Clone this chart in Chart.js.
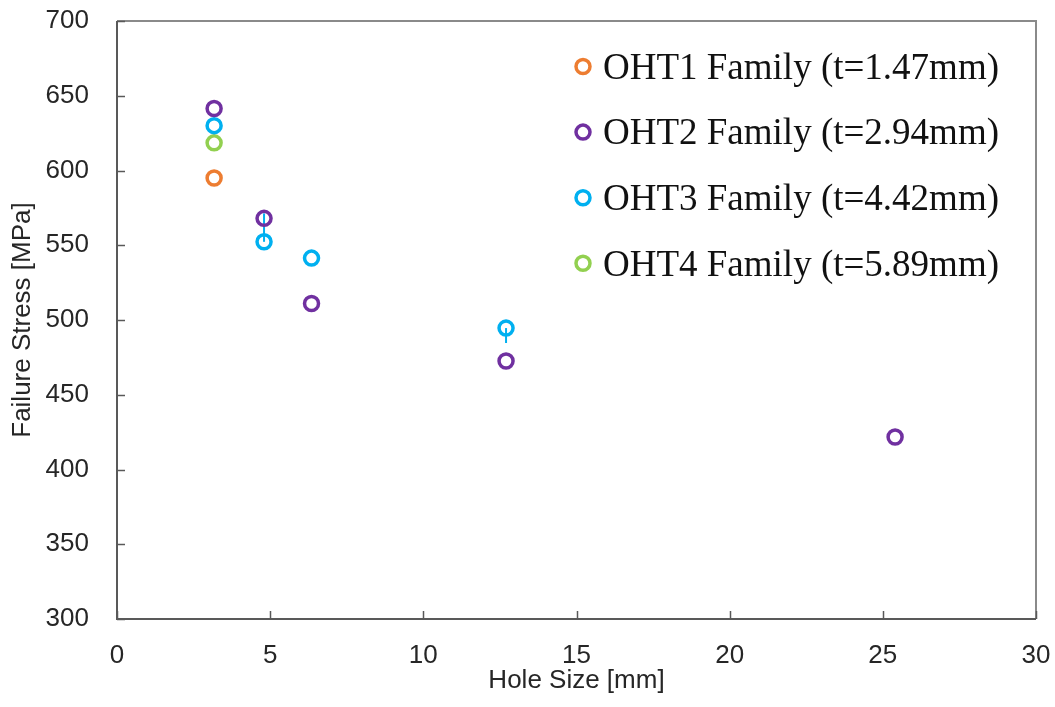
<!DOCTYPE html>
<html>
<head>
<meta charset="utf-8">
<script src="https://cdn.jsdelivr.net/npm/chart.js@4/dist/chart.umd.min.js"></script>
<style>
  html, body { margin: 0; padding: 0; background: #ffffff; }
  #wrap { width: 1055px; height: 707px; }
</style>
</head>
<body>
<div id="wrap"><canvas id="c" width="1055" height="707"></canvas></div>
<script>
// Failure stress of open-hole tension families versus hole diameter
const seriesNames = [
  'OHT1 Family (t=1.47mm)',
  'OHT2 Family (t=2.94mm)',
  'OHT3 Family (t=4.42mm)',
  'OHT4 Family (t=5.89mm)'
];
const seriesColors = ['#ED7D31', '#7030A0', '#00B0F0', '#92D050'];

const oht1Hole = [3.17];
const oht1Stress = [595];

const oht2Hole = [3.17, 4.8, 6.35, 12.7, 25.4];
const oht2Stress = [641.5, 568, 511, 472.6, 421.7];

const oht3Hole = [3.17, 4.8, 6.35, 12.7];
const oht3Stress = [630, 552.3, 541.4, 494.6];
// scatter of the OHT3 results (upper / lower extent from the mean)
const oht3ErrPlus = [0, 19, 0, 0];
const oht3ErrMinus = [0, 0, 0, 10];

const oht4Hole = [3.17];
const oht4Stress = [618.5];

const xTicks = [0, 5, 10, 15, 20, 25, 30];
const yTicks = [300, 350, 400, 450, 500, 550, 600, 650, 700];

const holeLists = [oht1Hole, oht2Hole, oht3Hole, oht4Hole];
const stressLists = [oht1Stress, oht2Stress, oht3Stress, oht4Stress];

const MARK_R = 7;
const MARK_W = 3.5;

const datasets = seriesNames.map((name, i) => ({
  label: name,
  data: holeLists[i].map((x, k) => ({ x: x, y: stressLists[i][k] })),
  borderColor: seriesColors[i],
  backgroundColor: 'rgba(0,0,0,0)',
  pointRadius: MARK_R,
  pointHoverRadius: MARK_R,
  pointBorderWidth: MARK_W,
  pointHoverBorderWidth: MARK_W,
  showLine: false
}));

const TICK_FONT = { family: '"Liberation Sans", Arial, sans-serif', size: 26 };
const TEXT_COLOR = '#262626';

// fixed axis box sizes; label overhang is allowed into the outer margin
function fixBox(s, w, h) {
  if (w !== null) s.width = w;
  if (h !== null) s.height = h;
  s.paddingTop = 0;
  s.paddingBottom = 0;
  s.paddingLeft = 0;
  s.paddingRight = 0;
}

// plot frame, axis lines and inward tick marks
const framePlugin = {
  id: 'frame',
  afterDraw(chart) {
    const { ctx, chartArea: a, scales } = chart;
    ctx.save();
    ctx.strokeStyle = '#8a8a8a';
    ctx.lineWidth = 2;
    ctx.beginPath();
    ctx.moveTo(a.left, a.top);
    ctx.lineTo(a.right, a.top);
    ctx.lineTo(a.right, a.bottom);
    ctx.stroke();
    ctx.strokeStyle = '#595959';
    ctx.lineWidth = 2;
    ctx.beginPath();
    ctx.moveTo(a.left, a.top);
    ctx.lineTo(a.left, a.bottom);
    ctx.lineTo(a.right, a.bottom);
    ctx.stroke();
    ctx.lineWidth = 1.5;
    yTicks.forEach(v => {
      const y = Math.round(scales.y.getPixelForValue(v)) + 0.5;
      ctx.beginPath();
      ctx.moveTo(a.left, y);
      ctx.lineTo(a.left + 8, y);
      ctx.stroke();
    });
    xTicks.forEach(v => {
      const x = Math.round(scales.x.getPixelForValue(v)) + 0.5;
      ctx.beginPath();
      ctx.moveTo(x, a.bottom);
      ctx.lineTo(x, a.bottom - 8);
      ctx.stroke();
    });
    ctx.restore();
  }
};

// vertical error bars on the OHT3 series
const errorBarPlugin = {
  id: 'errorBars',
  beforeDatasetsDraw(chart) {
    const { ctx, scales } = chart;
    ctx.save();
    ctx.strokeStyle = seriesColors[2];
    ctx.lineWidth = 2;
    oht3Hole.forEach((x, k) => {
      const px = scales.x.getPixelForValue(x);
      const yTop = scales.y.getPixelForValue(oht3Stress[k] + oht3ErrPlus[k]);
      const yBot = scales.y.getPixelForValue(oht3Stress[k] - oht3ErrMinus[k]);
      if (yBot - yTop < 0.5) return;
      ctx.beginPath();
      ctx.moveTo(px, yTop);
      ctx.lineTo(px, yBot);
      ctx.stroke();
    });
    ctx.restore();
  }
};

// legend block inside the upper right of the plot
const legendPlugin = {
  id: 'serifLegend',
  afterDatasetsDraw(chart) {
    const { ctx, chartArea: a } = chart;
    const markerX = a.right - 453;
    const textX = markerX + 20;
    const size = 37;
    ctx.save();
    ctx.font = size + 'px "Liberation Serif", "Times New Roman", serif';
    ctx.textAlign = 'left';
    ctx.textBaseline = 'alphabetic';
    chart.data.datasets.forEach((ds, i) => {
      const cy = a.top + 45.5 + i * 65.6;
      ctx.strokeStyle = ds.borderColor;
      ctx.lineWidth = MARK_W;
      ctx.beginPath();
      ctx.arc(markerX, cy, MARK_R, 0, Math.PI * 2);
      ctx.stroke();
      ctx.fillStyle = '#111111';
      ctx.fillText(ds.label, textX, cy + size * 0.662 / 2);
    });
    ctx.restore();
  }
};

new Chart(document.getElementById('c'), {
  type: 'scatter',
  data: { datasets: datasets },
  options: {
    responsive: false,
    animation: false,
    events: [],
    layout: { autoPadding: false, padding: { left: 0, top: 21, right: 19, bottom: 0 } },
    plugins: {
      legend: { display: false },
      tooltip: { enabled: false }
    },
    scales: {
      x: {
        type: 'linear',
        min: 0,
        max: 30,
        afterBuildTicks(s) { s.ticks = xTicks.map(v => ({ value: v })); },
        afterFit(s) { fixBox(s, null, 88); },
        grid: { display: false, drawTicks: false },
        border: { display: false },
        ticks: { font: TICK_FONT, color: TEXT_COLOR, padding: 21, maxRotation: 0 },
        title: {
          display: true,
          text: 'Hole Size [mm]',
          font: TICK_FONT,
          color: TEXT_COLOR,
          padding: { top: 0, bottom: 11 }
        }
      },
      y: {
        type: 'linear',
        min: 300,
        max: 700,
        afterBuildTicks(s) { s.ticks = yTicks.map(v => ({ value: v })); },
        afterFit(s) { fixBox(s, 117, null); },
        grid: { display: false, drawTicks: false },
        border: { display: false },
        ticks: { font: TICK_FONT, color: TEXT_COLOR, padding: 28 },
        title: {
          display: true,
          text: 'Failure Stress [MPa]',
          font: TICK_FONT,
          color: TEXT_COLOR,
          padding: { top: 7, bottom: 0 }
        }
      }
    }
  },
  plugins: [framePlugin, errorBarPlugin, legendPlugin]
});
</script>
</body>
</html>
